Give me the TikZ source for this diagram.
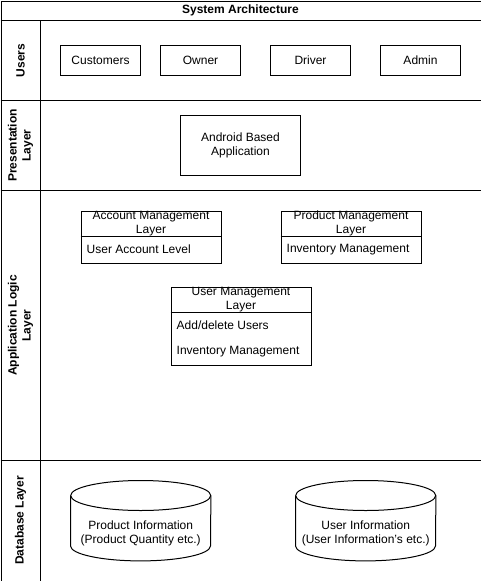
\documentclass[tikz,border=0pt]{standalone}
\usepackage{fontspec}
\setmainfont{Liberation Sans}
\usetikzlibrary{calc}
\tikzset{
  x=1pt, y=-1pt,
  every node/.style={font=\fontsize{12}{14}\selectfont, inner sep=0pt},
  line/.style={draw=black, line width=1pt},
  ubox/.style={line, minimum width=80pt, minimum height=30pt},
  lanelabel/.style={rotate=90, align=center, font=\fontsize{12}{14}\selectfont\bfseries},
  classbox/.style={line, minimum width=140pt, anchor=north west},
  itemtext/.style={anchor=west},
  dbbody/.style={minimum width=140pt, minimum height=80pt, anchor=north west},
}
\begin{document}
\begin{tikzpicture}
\useasboundingbox (0,0) rectangle (481,581);
% outer frame and lanes
\node[line, minimum width=480pt, minimum height=580pt, anchor=north west] (frame) at (0.5,0.5) {};
\coordinate (t1) at (0.5,20.5); \coordinate (t2) at (480.5,20.5);
\draw[line] (t1) -- (t2);
\coordinate (c1) at (40.5,20.5); \coordinate (c2) at (40.5,580.5);
\draw[line] (c1) -- (c2);
\coordinate (l1a) at (0.5,100.5); \coordinate (l1b) at (480.5,100.5);
\coordinate (l2a) at (0.5,190.5); \coordinate (l2b) at (480.5,190.5);
\coordinate (l3a) at (0.5,460.5); \coordinate (l3b) at (480.5,460.5);
\draw[line] (l1a) -- (l1b);
\draw[line] (l2a) -- (l2b);
\draw[line] (l3a) -- (l3b);
\node[font=\fontsize{12}{14}\selectfont\bfseries] (title) at (240.5,10.5) {System Architecture};
\node[lanelabel] (lusers) at (20.5,60.5) {Users};
\node[lanelabel] (lpres) at (20.5,145.5) {Presentation\\Layer};
\node[lanelabel] (lapp) at (20.5,325.5) {Application Logic\\Layer};
\node[lanelabel] (ldb) at (20.5,520.5) {Database Layer};
% users
\node[ubox] (cust) at (100.5,60.5) {Customers};
\node[ubox] (owner) at (200.5,60.5) {Owner};
\node[ubox] (driver) at (310.5,60.5) {Driver};
\node[ubox] (admin) at (420.5,60.5) {Admin};
% presentation
\node[line, minimum width=120pt, minimum height=60pt, align=center] (android) at (240.5,145.5) {Android Based\\Application};
% application logic
\node[classbox, minimum height=52pt] (acc) at (80.5,210.5) {};
\draw[line] ([yshift=-26pt]acc.north west) -- ([yshift=-26pt]acc.north east);
\node[align=center] (acch) at ([yshift=-13pt]acc.north) {Account Management\\Layer};
\node[itemtext] (acci) at ([xshift=6pt,yshift=-39pt]acc.north west) {User Account Level};

\node[classbox, minimum height=52pt] (prod) at (280.5,210.5) {};
\draw[line] ([yshift=-26pt]prod.north west) -- ([yshift=-26pt]prod.north east);
\node[align=center] (prodh) at ([yshift=-13pt]prod.north) {Product Management\\Layer};
\node[itemtext] (prodi) at ([xshift=6pt,yshift=-39pt]prod.north west) {Inventory Management};

\node[classbox, minimum height=78pt] (user) at (170.5,286.5) {};
\draw[line] ([yshift=-26pt]user.north west) -- ([yshift=-26pt]user.north east);
\node[align=center] (userh) at ([yshift=-13pt]user.north) {User Management\\Layer};
\node[itemtext] (useri1) at ([xshift=6pt,yshift=-39pt]user.north west) {Add/delete Users};
\node[itemtext] (useri2) at ([xshift=6pt,yshift=-65pt]user.north west) {Inventory Management};
% database
\node[dbbody] (db1) at (70.5,480.5) {};
\draw[line] ([yshift=-15pt]db1.north) ellipse [x radius=70pt, y radius=15pt];
\draw[line] ([yshift=-15pt]db1.north west) -- ([yshift=15pt]db1.south west) arc[start angle=180, end angle=360, x radius=70pt, y radius=15pt] -- ([yshift=-15pt]db1.north east);
\node[align=center] (db1t) at ([yshift=-13pt]db1.center) {Product Information\\(Product Quantity etc.)};

\node[dbbody] (db2) at (295.5,480.5) {};
\draw[line] ([yshift=-15pt]db2.north) ellipse [x radius=70pt, y radius=15pt];
\draw[line] ([yshift=-15pt]db2.north west) -- ([yshift=15pt]db2.south west) arc[start angle=180, end angle=360, x radius=70pt, y radius=15pt] -- ([yshift=-15pt]db2.north east);
\node[align=center] (db2t) at ([yshift=-13pt]db2.center) {User Information\\(User Information's etc.)};
\end{tikzpicture}
\end{document}
